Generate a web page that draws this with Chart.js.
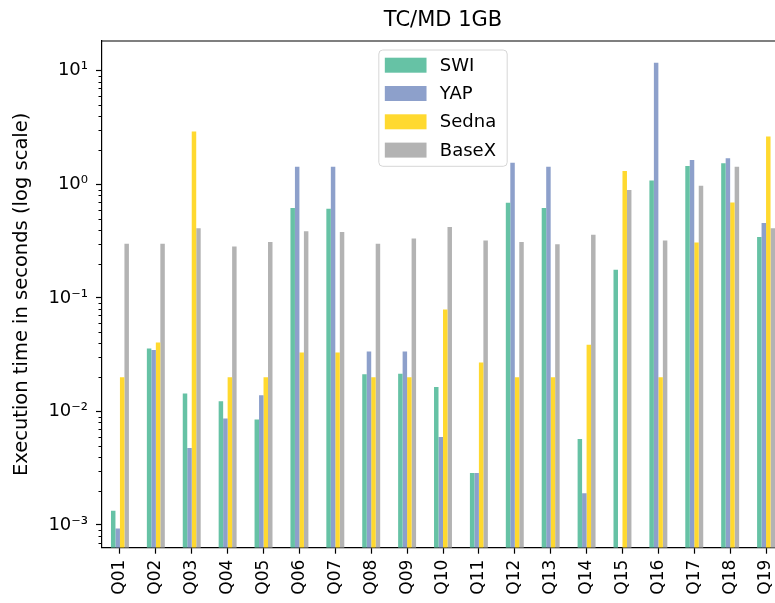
<!DOCTYPE html>
<html><head><meta charset="utf-8">
<script src="https://cdn.jsdelivr.net/npm/chart.js@4.4.0/dist/chart.umd.min.js"></script>
<style>
html,body{margin:0;padding:0;background:#fff;overflow:hidden;width:775px;height:603px;}
#wrap{position:relative;width:886px;height:603px;}
</style></head><body>
<div id="wrap"><canvas id="c" width="886" height="603"></canvas></div>
<script>
const categories = ['Q01','Q02','Q03','Q04','Q05','Q06','Q07','Q08','Q09','Q10','Q11','Q12','Q13','Q14','Q15','Q16','Q17','Q18','Q19'];
const swiValues   = [0.00133,0.0358,0.0144,0.0123,0.0085,0.62,0.61,0.0212,0.0215,0.0164,0.00286,0.687,0.62,0.0057,0.177,1.08,1.45,1.53,0.344];
const yapValues   = [0.00093,0.0347,0.00476,0.00867,0.0139,1.43,1.43,0.0337,0.0337,0.00596,0.00286,1.55,1.43,0.0019,null,11.8,1.64,1.70,0.457];
const sednaValues = [0.02,0.0405,2.92,0.02,0.02,0.033,0.033,0.02,0.02,0.0788,0.0269,0.02,0.02,0.0386,1.31,0.02,0.307,0.69,2.64];
const basexValues = [0.30,0.30,0.41,0.284,0.31,0.386,0.38,0.30,0.333,0.42,0.32,0.31,0.296,0.36,0.89,0.32,0.97,1.43,0.41];
const seriesNames = ['SWI','YAP','Sedna','BaseX'];
const seriesColors = ['#66c2a5','#8da0cb','#ffd92f','#b3b3b3'];
const yMin = 6.3e-4, yMax = 18.3;
const majorTickValues = [1e-3,1e-2,1e-1,1,10];
const majorTickLabels = ['10\u207B\u00B3','10\u207B\u00B2','10\u207B\u00B9','10\u2070','10\u00B9'];

const FONT = '"DejaVu Sans", sans-serif';
const seriesValues = [swiValues, yapValues, sednaValues, basexValues];

function majorIndex(v){
  for (let i=0;i<majorTickValues.length;i++){
    if (Math.abs(Math.log10(v) - Math.log10(majorTickValues[i])) < 1e-6) return i;
  }
  return -1;
}
function allTickValues(){
  const out = [];
  for (let e=-4; e<=1; e++){
    for (let m=1; m<=9; m++){
      const v = parseFloat((m*Math.pow(10,e)).toPrecision(6));
      if (v >= yMin && v <= yMax) out.push(v);
    }
  }
  return out;
}

const framePlugin = {
  id: 'frame',
  afterDraw(chart){
    const {ctx, chartArea:a, scales} = chart;
    ctx.save();
    ctx.strokeStyle = '#000';
    ctx.lineWidth = 1.2;
    ctx.beginPath();
    ctx.moveTo(a.left, a.top); ctx.lineTo(a.right, a.top); ctx.lineTo(a.right, a.bottom);
    ctx.stroke();
    const y = scales.y;
    ctx.lineWidth = 1;
    allTickValues().forEach(v => {
      if (majorIndex(v) >= 0) return;
      const py = Math.round(y.getPixelForValue(v)) + 0.5;
      ctx.beginPath(); ctx.moveTo(a.left - 3.5, py); ctx.lineTo(a.left, py); ctx.stroke();
    });
    ctx.restore();
  }
};

const legendPlugin = {
  id: 'innerLegend',
  afterDraw(chart){
    const {ctx, chartArea:a} = chart;
    const fs = 18;
    ctx.save();
    ctx.font = fs + 'px ' + FONT;
    const ds = chart.data.datasets;
    const textW = Math.max(...ds.map(d => ctx.measureText(d.label).width));
    const padL = 6, swW = 41.7, swH = 15, gap = 13.3, padR = 11, rowH = 28.3, padT = 7.7;
    const w = padL + swW + gap + textW + padR;
    const h = padT*2 + rowH*(ds.length-1) + swH + 1;
    const cx = (a.left + a.right)/2;
    const x0 = cx - w/2, y0 = a.top + 9;
    ctx.beginPath();
    if (ctx.roundRect) ctx.roundRect(x0, y0, w, h, 4); else ctx.rect(x0,y0,w,h);
    ctx.fillStyle = 'rgba(255,255,255,0.85)';
    ctx.fill();
    ctx.strokeStyle = '#d6d6d6';
    ctx.lineWidth = 1;
    ctx.stroke();
    ds.forEach((d,i) => {
      const sy = y0 + padT + i*rowH;
      ctx.fillStyle = d.backgroundColor;
      ctx.fillRect(x0 + padL, sy, swW, swH);
      ctx.fillStyle = '#000';
      ctx.textBaseline = 'middle';
      ctx.textAlign = 'left';
      ctx.fillText(d.label, x0 + padL + swW + gap, sy + swH/2 + 1);
    });
    ctx.restore();
  }
};

new Chart(document.getElementById('c'), {
  type: 'bar',
  data: {
    labels: categories,
    datasets: seriesNames.map((n,i) => ({
      label: n,
      data: seriesValues[i],
      backgroundColor: seriesColors[i],
      borderWidth: 0,
      categoryPercentage: 0.5,
      barPercentage: 1.0
    }))
  },
  options: {
    responsive: false,
    animation: false,
    devicePixelRatio: 1,
    layout: { padding: { left: 0, right: 102, top: 0, bottom: 0 } },
    plugins: {
      legend: { display: false },
      tooltip: { enabled: false },
      title: {
        display: true,
        fullSize: false,
        text: 'TC/MD 1GB',
        color: '#000',
        font: { family: FONT, size: 21, weight: 'normal' },
        padding: { top: 8, bottom: 7.8 }
      }
    },
    scales: {
      x: {
        type: 'category',
        offset: true,
        grid: { display: true, drawOnChartArea: false, offset: false, drawTicks: true, tickLength: 6, tickColor: '#000', tickWidth: 1.2 },
        border: { display: true, color: '#000', width: 1.2 },
        ticks: { color: '#000', font: { family: FONT, size: 17 }, minRotation: 90, maxRotation: 90, autoSkip: false, padding: 6 },
        afterFit(scale){ scale.height = 55.3; }
      },
      y: {
        type: 'logarithmic',
        min: yMin,
        max: yMax,
        bounds: 'data',
        afterBuildTicks(scale){
          scale.ticks = allTickValues().map(v => ({ value: v, major: majorIndex(v) >= 0 }));
        },
        grid: {
          display: true, drawOnChartArea: false, drawTicks: true, tickLength: 6, tickWidth: 1.2,
          tickColor: (c) => (c.tick && majorIndex(c.tick.value) >= 0) ? '#000' : 'rgba(0,0,0,0)'
        },
        border: { display: true, color: '#000', width: 1.2 },
        ticks: {
          color: '#000',
          autoSkip: false,
          font: { family: FONT, size: 18 },
          padding: 8,
          callback: (v) => { const i = majorIndex(v); return i >= 0 ? majorTickLabels[i] : ''; }
        },
        title: {
          display: true,
          text: 'Execution time in seconds (log scale)',
          color: '#000',
          font: { family: FONT, size: 19.5 },
          padding: { top: 10, bottom: 0 }
        },
        afterFit(scale){ scale.width = 102; }
      }
    }
  },
  plugins: [framePlugin, legendPlugin]
});
</script>
</body></html>
